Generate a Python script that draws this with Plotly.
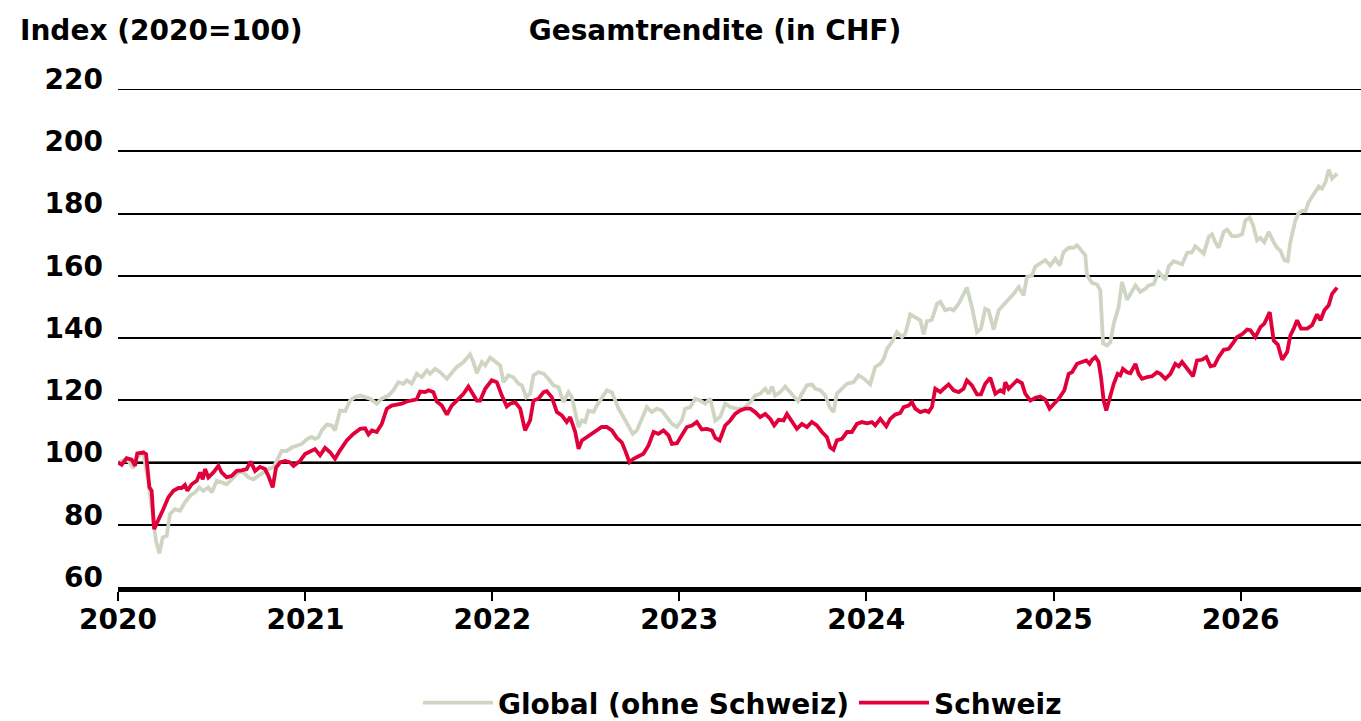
import plotly.graph_objects as go
import pandas as pd

# ---- data (time as decimal year, values index 2020=100) ----
schweiz_t = [
    2020.000, 2020.020, 2020.046, 2020.073, 2020.091, 2020.103, 2020.135, 2020.150, 2020.168, 2020.180,
    2020.193, 2020.216, 2020.242, 2020.269, 2020.296, 2020.323, 2020.340, 2020.358, 2020.371, 2020.394,
    2020.421, 2020.439, 2020.453, 2020.465, 2020.483, 2020.510, 2020.537, 2020.554, 2020.581, 2020.608,
    2020.635, 2020.661, 2020.688, 2020.709, 2020.733, 2020.759, 2020.786, 2020.804, 2020.827, 2020.845,
    2020.866, 2020.893, 2020.920, 2020.938, 2020.973, 2021.000, 2021.027, 2021.053,
    2021.080, 2021.107, 2021.134, 2021.160, 2021.187, 2021.223, 2021.258, 2021.294, 2021.321, 2021.339,
    2021.357, 2021.383, 2021.410, 2021.437, 2021.463, 2021.490, 2021.517, 2021.544, 2021.570, 2021.597,
    2021.615, 2021.642, 2021.660, 2021.686, 2021.704, 2021.731, 2021.758, 2021.784, 2021.811, 2021.847,
    2021.873, 2021.891, 2021.918, 2021.936, 2021.963, 2021.998, 2022.025, 2022.052, 2022.078,
    2022.096, 2022.123, 2022.150, 2022.176, 2022.203, 2022.221, 2022.248, 2022.275, 2022.292, 2022.319,
    2022.346, 2022.373, 2022.399, 2022.417, 2022.444, 2022.462, 2022.480, 2022.506, 2022.533, 2022.560,
    2022.586, 2022.613, 2022.640, 2022.667, 2022.693, 2022.711, 2022.734, 2022.756, 2022.783, 2022.809,
    2022.836, 2022.863, 2022.889, 2022.916, 2022.943, 2022.961, 2022.988, 2023.014, 2023.041, 2023.068,
    2023.094, 2023.121, 2023.148, 2023.175, 2023.193, 2023.216,
    2023.246, 2023.273, 2023.299, 2023.326, 2023.353, 2023.380, 2023.406, 2023.433, 2023.460, 2023.487,
    2023.508, 2023.531, 2023.558, 2023.576, 2023.602, 2023.629, 2023.656, 2023.683, 2023.709, 2023.736,
    2023.763, 2023.790, 2023.807, 2023.825, 2023.843, 2023.870, 2023.897, 2023.923, 2023.950, 2023.977,
    2024.004,
    2024.030, 2024.048, 2024.075, 2024.107, 2024.128, 2024.155, 2024.182, 2024.200, 2024.226, 2024.244,
    2024.262, 2024.289, 2024.316, 2024.333, 2024.351, 2024.369, 2024.396, 2024.414, 2024.440, 2024.467,
    2024.494, 2024.520, 2024.538, 2024.565, 2024.592, 2024.613, 2024.636, 2024.663, 2024.690, 2024.717,
    2024.734, 2024.743, 2024.761, 2024.788, 2024.806, 2024.832, 2024.850, 2024.877, 2024.904, 2024.930,
    2024.957, 2024.980, 2025.002, 2025.029,
    2025.059, 2025.082, 2025.100, 2025.127, 2025.153, 2025.176, 2025.194, 2025.207, 2025.225, 2025.242,
    2025.255, 2025.269, 2025.283, 2025.301, 2025.323, 2025.344, 2025.358, 2025.372, 2025.394, 2025.412,
    2025.439, 2025.456, 2025.474, 2025.501, 2025.528, 2025.554, 2025.572, 2025.599, 2025.626, 2025.652,
    2025.670, 2025.688, 2025.715, 2025.747, 2025.768, 2025.795, 2025.818, 2025.840, 2025.861, 2025.884,
    2025.911, 2025.938, 2025.964, 2025.982, 2026.009, 2026.036, 2026.053, 2026.080, 2026.107, 2026.128,
    2026.157, 2026.178, 2026.200, 2026.223, 2026.250, 2026.267, 2026.285, 2026.303, 2026.324, 2026.357,
    2026.383, 2026.410, 2026.428, 2026.449, 2026.472, 2026.490, 2026.517,
]
schweiz_v = [
    100.0, 99.3, 101.4, 100.9, 98.9, 102.9, 103.2, 102.7, 92.0, 90.9,
    78.6, 81.3, 85.0, 88.8, 90.9, 91.8, 91.8, 92.8, 90.9, 93.0,
    94.1, 96.8, 94.6, 97.9, 95.2, 96.8, 98.9, 96.8, 95.2, 95.7,
    97.3, 97.5, 97.9, 100.3, 97.3, 98.6, 97.9, 95.7, 92.0, 98.4,
    100.0, 100.5, 100.0, 98.9, 100.5, 102.7, 103.5, 104.3,
    102.3, 104.7, 103.3, 101.2, 103.9, 107.1, 109.2, 110.8, 111.0, 109.0,
    110.3, 109.8, 112.4, 117.3, 118.3, 118.6, 118.9, 119.6, 119.9, 120.3,
    122.8, 122.6, 123.2, 122.6, 119.6, 118.3, 115.4, 118.3, 119.9, 122.1,
    124.4, 122.6, 119.9, 119.9, 123.7, 126.4, 125.8, 121.5, 118.0,
    118.9, 119.4, 117.3, 110.3, 113.5, 119.9, 120.5, 122.6, 122.9, 121.0,
    116.2, 115.1, 113.0, 114.6, 109.8, 104.4, 107.1, 108.1, 109.2, 110.3,
    111.4, 111.4, 110.3, 107.9, 106.5, 103.9, 100.1, 101.2, 101.9, 102.8,
    105.5, 109.8, 109.2, 110.3, 108.7, 106.0, 106.2, 108.7, 111.4, 111.9,
    113.0, 110.6, 110.8, 110.3, 107.9, 107.1,
    111.9, 113.5, 115.6, 116.7, 117.3, 117.3, 116.2, 114.6, 115.6, 114.0,
    111.9, 113.7, 113.5, 115.6, 113.0, 110.8, 112.4, 111.4, 113.0, 111.9,
    109.8, 108.1, 104.9, 104.1, 107.1, 107.6, 109.8, 109.8, 112.4, 113.0,
    112.6,
    113.0, 111.9, 114.0, 111.6, 114.0, 115.4, 115.9, 117.8, 118.3, 119.4,
    117.3, 116.2, 116.7, 116.2, 117.8, 123.7, 122.6, 123.7, 125.1, 123.2,
    122.6, 123.7, 126.4, 124.8, 121.9, 121.9, 125.3, 127.2, 122.1, 123.2,
    122.6, 125.8, 123.7, 125.3, 126.4, 125.5, 122.1, 119.9, 120.8, 121.2,
    120.2, 117.3, 118.9, 120.5,
    123.2, 128.5, 129.0, 131.7, 132.3, 132.8, 131.7, 133.0, 133.9, 132.3,
    127.4, 119.9, 116.7, 121.0, 125.3, 128.5, 128.0, 130.1, 129.0, 128.7,
    131.7, 128.5, 126.9, 127.4, 127.7, 129.0, 128.5, 126.9, 128.5, 131.7,
    130.9, 132.3, 130.1, 127.7, 132.8, 133.0, 133.9, 130.9, 131.2, 133.9,
    136.2, 136.5, 138.7, 140.3, 141.2, 142.7, 142.5, 140.3, 143.5, 144.6,
    148.3, 139.2, 137.9, 133.0, 135.5, 140.8, 143.0, 145.7, 143.0, 143.0,
    144.1, 147.6, 145.7, 148.9, 150.5, 154.2, 156.2,
]

global_t = [
    2020.000, 2020.029, 2020.055, 2020.082, 2020.100, 2020.135, 2020.162, 2020.180, 2020.203, 2020.221,
    2020.239, 2020.260, 2020.278, 2020.305, 2020.332, 2020.358, 2020.385, 2020.412, 2020.435, 2020.456,
    2020.483, 2020.501, 2020.528, 2020.554, 2020.581, 2020.608, 2020.635, 2020.661, 2020.697, 2020.724,
    2020.750, 2020.777, 2020.804, 2020.831, 2020.857, 2020.875, 2020.902, 2020.929, 2020.955, 2020.982,
    2021.009, 2021.036,
    2021.053, 2021.071, 2021.089, 2021.116, 2021.143, 2021.160, 2021.187, 2021.214, 2021.241, 2021.267,
    2021.294, 2021.321, 2021.348, 2021.383, 2021.410, 2021.446, 2021.472, 2021.499, 2021.526, 2021.544,
    2021.570, 2021.597, 2021.624, 2021.651, 2021.668, 2021.695, 2021.722, 2021.758, 2021.784, 2021.811,
    2021.847, 2021.882, 2021.900, 2021.918, 2021.945, 2021.963, 2021.989, 2022.016,
    2022.043, 2022.061, 2022.087, 2022.114, 2022.141, 2022.159, 2022.182, 2022.203, 2022.221, 2022.248,
    2022.275, 2022.301, 2022.328, 2022.355, 2022.381, 2022.408, 2022.426, 2022.444, 2022.462, 2022.480,
    2022.497, 2022.515, 2022.542, 2022.560, 2022.586, 2022.613, 2022.640, 2022.658, 2022.676, 2022.702,
    2022.729, 2022.752, 2022.774, 2022.800, 2022.827, 2022.854, 2022.881, 2022.907, 2022.934, 2022.961,
    2022.988, 2023.014, 2023.032, 2023.059, 2023.086,
    2023.112, 2023.139, 2023.166, 2023.193, 2023.219, 2023.246, 2023.273, 2023.308, 2023.344, 2023.380,
    2023.406, 2023.433, 2023.460, 2023.478, 2023.496, 2023.513, 2023.540, 2023.567, 2023.594, 2023.611,
    2023.635, 2023.656, 2023.683, 2023.709, 2023.727, 2023.754, 2023.781, 2023.804, 2023.825, 2023.843,
    2023.870, 2023.897, 2023.932, 2023.959, 2023.986,
    2024.021, 2024.048, 2024.075, 2024.093, 2024.111, 2024.137, 2024.164, 2024.191, 2024.209, 2024.235,
    2024.262, 2024.289, 2024.307, 2024.324, 2024.351, 2024.378, 2024.396, 2024.422, 2024.449, 2024.467,
    2024.494, 2024.512, 2024.538, 2024.565, 2024.592, 2024.613, 2024.636, 2024.654, 2024.681, 2024.708,
    2024.734, 2024.761, 2024.788, 2024.815, 2024.841, 2024.859, 2024.886, 2024.904, 2024.930, 2024.957,
    2024.984, 2025.011, 2025.034,
    2025.055, 2025.082, 2025.109, 2025.127, 2025.144, 2025.171, 2025.180, 2025.207, 2025.234, 2025.251,
    2025.266, 2025.287, 2025.305, 2025.323, 2025.349, 2025.367, 2025.394, 2025.421, 2025.439, 2025.465,
    2025.492, 2025.510, 2025.537, 2025.563, 2025.581, 2025.599, 2025.617, 2025.643, 2025.670, 2025.688,
    2025.715, 2025.742, 2025.759, 2025.777, 2025.804, 2025.831, 2025.848, 2025.866, 2025.884, 2025.911,
    2025.929, 2025.955, 2025.982, 2026.009, 2026.027, 2026.050, 2026.068, 2026.089, 2026.107, 2026.128,
    2026.151, 2026.178, 2026.196, 2026.214, 2026.235, 2026.253, 2026.267, 2026.294, 2026.312, 2026.330,
    2026.348, 2026.365, 2026.392, 2026.419, 2026.437, 2026.455, 2026.472, 2026.490, 2026.517,
]
global_v = [
    100.0, 100.7, 100.5, 98.2, 101.6, 103.2, 94.0, 85.5, 74.8, 70.8,
    75.9, 76.4, 83.4, 85.0, 84.5, 87.2, 89.3, 90.4, 92.0, 90.9,
    92.0, 90.4, 94.1, 93.6, 93.0, 94.6, 96.3, 97.3, 95.2, 94.6,
    95.7, 96.8, 97.9, 98.4, 101.4, 103.7, 103.7, 104.8, 105.4, 105.9,
    107.5, 108.2,
    107.6, 108.1, 110.3, 112.2, 111.9, 110.3, 116.7, 116.5, 119.9, 121.0,
    121.5, 121.0, 120.5, 118.9, 120.5, 121.5, 123.2, 125.8, 125.3, 126.4,
    125.3, 128.5, 127.4, 129.6, 128.5, 130.1, 129.0, 126.9, 129.0, 130.7,
    132.3, 134.7, 132.3, 128.7, 132.3, 131.2, 133.7, 132.3,
    131.2, 125.8, 128.0, 127.4, 125.3, 124.8, 121.0, 122.1, 128.0, 129.0,
    128.5, 126.9, 124.8, 124.2, 119.4, 122.6, 121.0, 116.2, 111.4, 113.5,
    113.0, 116.7, 116.2, 118.3, 121.0, 123.2, 122.6, 119.9, 117.3, 114.6,
    111.4, 109.2, 110.3, 114.0, 117.8, 116.2, 117.3, 116.7, 114.6, 112.4,
    111.4, 113.5, 117.3, 117.8, 120.5,
    119.9, 118.9, 120.5, 113.5, 114.6, 118.9, 117.8, 117.3, 117.3, 119.4,
    121.5, 122.1, 123.7, 122.1, 124.4, 121.5, 122.6, 124.4, 122.6, 121.5,
    119.7, 122.1, 124.8, 125.1, 123.7, 123.2, 121.5, 117.8, 116.2, 122.1,
    123.7, 125.3, 125.8, 128.0, 127.0,
    125.1, 130.7, 131.7, 133.3, 136.5, 138.7, 141.9, 140.3, 141.4, 147.6,
    146.7, 145.7, 141.2, 145.4, 145.9, 151.0, 151.6, 148.9, 149.4, 148.9,
    151.0, 153.2, 156.2, 149.9, 141.9, 143.0, 149.4, 148.9, 142.7, 148.9,
    150.5, 152.1, 154.2, 156.4, 153.7, 159.6, 160.1, 163.0, 163.9, 165.0,
    163.3, 165.5, 163.3,
    167.6, 169.0, 169.0, 169.8, 168.7, 166.6, 160.1, 157.7, 157.2, 155.3,
    138.2, 137.6, 138.7, 144.6, 149.9, 158.0, 152.3, 154.8, 156.9, 154.8,
    155.8, 156.9, 157.4, 161.2, 160.1, 158.7, 163.0, 164.7, 164.1, 163.7,
    167.3, 167.6, 169.5, 168.4, 167.1, 172.5, 173.3, 170.8, 169.0, 174.1,
    174.8, 172.7, 172.7, 173.3, 177.8, 178.7, 176.2, 171.4, 172.2, 170.8,
    174.1, 170.8, 169.0, 168.0, 165.0, 164.7, 170.8, 177.8, 180.2, 180.8,
    180.8, 183.7, 186.2, 188.7, 188.0, 190.1, 194.1, 191.2, 192.8,
]

series_names = ["Global (ohne Schweiz)", "Schweiz"]
y_ticks = [60, 80, 100, 120, 140, 160, 180, 200, 220]
y_min, y_max = 60, 220
ref_level = 100


def to_dates(ts):
    base = pd.Timestamp("2020-01-01")
    return [base + pd.Timedelta(days=(t - 2020.0) * 365.25) for t in ts]


FONT = dict(family="DejaVu Sans", size=28, color="black", weight="bold")

fig = go.Figure()
fig.add_trace(go.Scatter(
    x=to_dates(global_t), y=global_v, mode="lines", name=series_names[0],
    line=dict(color="#CFD5C3", width=3.8),
))
fig.add_trace(go.Scatter(
    x=to_dates(schweiz_t), y=schweiz_v, mode="lines", name=series_names[1],
    line=dict(color="#E2003B", width=3.8),
))

# reference line at 100 (grey, thicker) and top gridline at 220
fig.add_shape(type="line", xref="paper", x0=0, x1=1, yref="y", y0=ref_level, y1=ref_level,
              line=dict(color="#686868", width=3), layer="between")
fig.add_shape(type="line", xref="paper", x0=0, x1=1, yref="y", y0=y_max, y1=y_max,
              line=dict(color="black", width=2), layer="between")

fig.update_layout(
    width=1361, height=721,
    paper_bgcolor="white", plot_bgcolor="white",
    margin=dict(l=118, r=0, t=89, b=134, pad=0, autoexpand=False),
    font=FONT,
    showlegend=True,
    legend=dict(orientation="h", xref="container", x=418 / 1361, xanchor="left",
                yref="container", y=(721 - 703) / 721, yanchor="middle",
                font=FONT, itemwidth=70, traceorder="normal", entrywidthmode="pixels"),
    title=dict(text="Gesamtrendite (in CHF)", xref="container", x=715 / 1361, xanchor="center",
               yref="container", y=1 - 30 / 721, yanchor="middle", font=FONT),
    annotations=[dict(text="Index (2020=100)", xref="paper", yref="paper",
                      x=(18 - 118) / 1243, xanchor="left", y=(587 - 30) / 498, yanchor="middle",
                      showarrow=False, font=FONT)],
    xaxis=dict(type="date", range=["2020-01-01", "2026-08-24"], showgrid=False,
               showline=True, linecolor="black", linewidth=5,
               ticks="outside", ticklen=9, tickwidth=2, tickcolor="black",
               tick0="2020-01-01", dtick="M12", tickformat="%Y", tickfont=FONT,
               tickangle=0, ticklabelstandoff=-6, zeroline=False, automargin=False),
    yaxis=dict(range=[y_min, y_max], tickvals=y_ticks, showgrid=True, gridcolor="black", gridwidth=2,
               ticks="", ticklabelposition="outside", ticklabelstandoff=14, ticklabelshift=-10,
               tickfont=FONT, zeroline=False, showline=False, automargin=False),
)

fig.write_html("out.html", post_script="document.body.style.margin='0';",
               config={"displayModeBar": False})
